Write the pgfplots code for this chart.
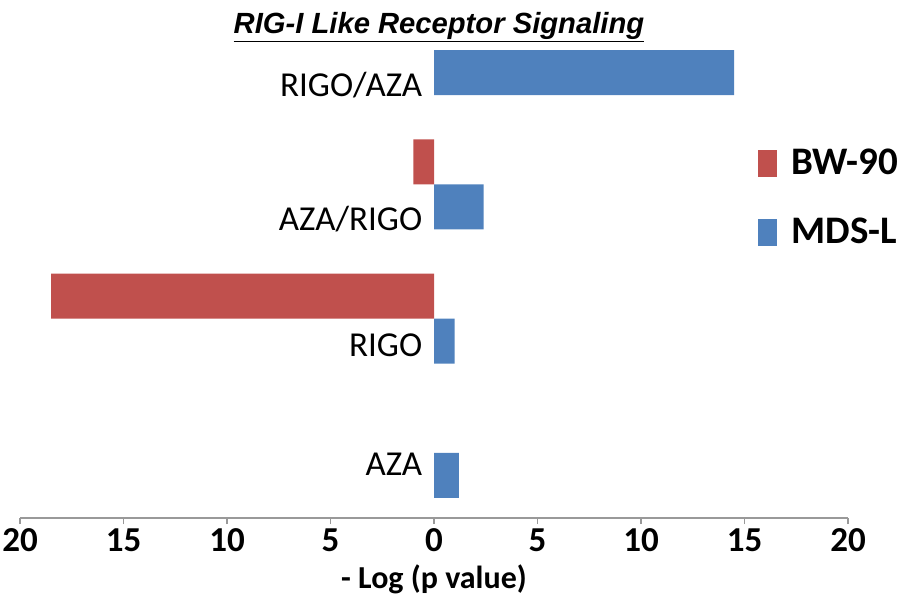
\documentclass[border=0pt]{standalone}
\usepackage{pgfplots}
\pgfplotsset{compat=1.18}
\usepackage{fontspec}
\setmainfont{Carlito}
\newfontfamily\arialf{Liberation Sans}
\definecolor{bwred}{RGB}{192,80,77}
\definecolor{mdsblue}{RGB}{79,129,189}
\begin{document}
\begin{tikzpicture}
\useasboundingbox (0,0) rectangle (450pt,300pt);
\begin{axis}[
  at={(10pt,41pt)}, anchor=south west,
  scale only axis, width=414pt, height=239pt,
  xmin=-20, xmax=20, ymin=-0.484, ymax=3.075,
  clip=false,
  axis x line=bottom, axis y line=none,
  x axis line style={draw=gray!80, line width=0.8pt, -},
  xtick={-20,-15,-10,-5,0,5,10,15,20},
  xticklabels={20,15,10,5,0,5,10,15,20},
  xtick style={draw=gray!80, line width=0.8pt},
  major tick length=3pt,
  tick align=outside,
  xticklabel style={font=\fontsize{17.5}{20}\selectfont\bfseries, inner sep=2pt},
  ytick=\empty,
  xlabel={- Log (p value)},
  xlabel style={font=\fontsize{16}{19}\selectfont\bfseries, yshift=-1pt},
  xbar, bar width=22.5pt,
  legend style={draw=none, fill=none, at={(rel axis cs:0.884,0.79)}, anchor=north west,
    font=\fontsize{19.5}{22}\selectfont\bfseries, row sep=16.5pt, cells={anchor=west}},
  legend image code/.code={\fill[#1,draw=none] (0pt,-6.75pt) rectangle (9.5pt,6.75pt); \path (14.5pt,0pt);},
]
\addplot[fill=bwred, draw=none, bar shift=11.25pt] coordinates {(-18.5,1) (-1.0,2)};
\addlegendentry{BW-90}
\addplot[fill=mdsblue, draw=none, bar shift=-11.25pt] coordinates {(1.2,0) (1.0,1) (2.4,2) (14.5,3)};
\addlegendentry{MDS-L}
\begin{scope}[every node/.style={font=\fontsize{17.5}{20}\selectfont, anchor=base east, inner sep=0pt}]
\node at (axis cs:-0.55,2.651) {RIGO/AZA};
\node at (axis cs:-0.55,1.660) {AZA/RIGO};
\node at (axis cs:-0.55,0.715) {RIGO};
\node at (axis cs:-0.55,-0.171) {AZA};
\end{scope}
\node[anchor=base, inner sep=0pt, font=\fontsize{14.6}{17}\selectfont\arialf\bfseries\itshape] at (axis cs:0.24,3.127) {\underline{RIG-I Like Receptor Signaling}};
\end{axis}
\end{tikzpicture}
\end{document}
